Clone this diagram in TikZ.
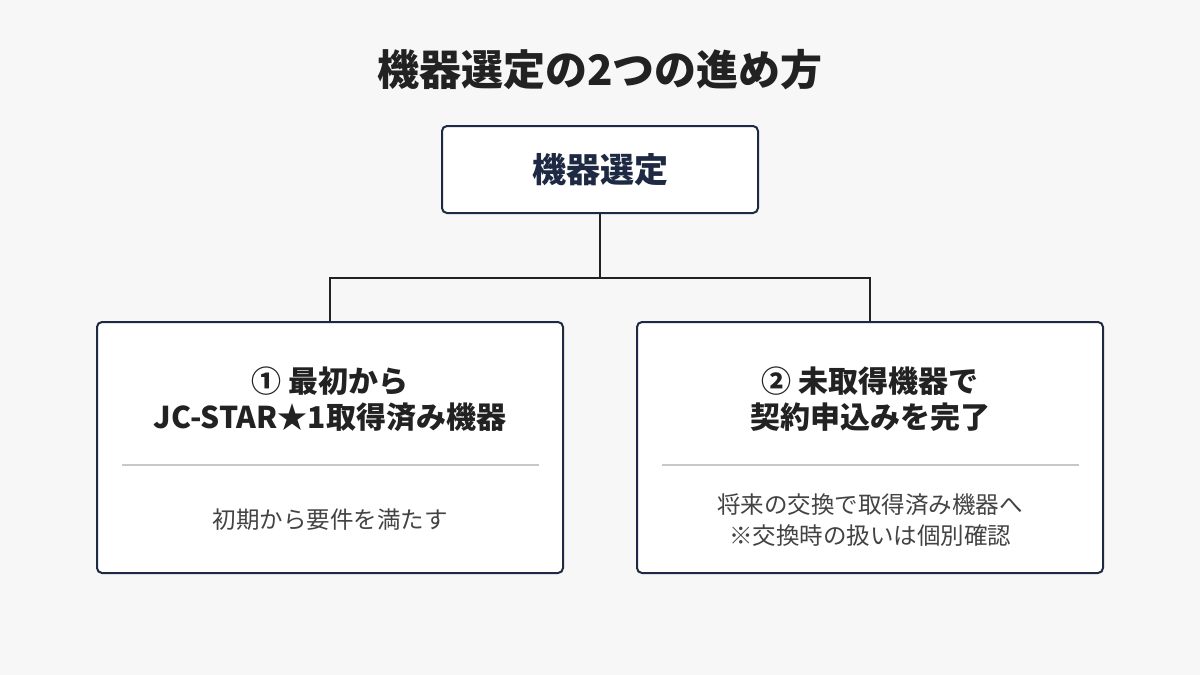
\documentclass[tikz,border=0pt]{standalone}
\usepackage{fontspec}
\setmainfont{Noto Sans CJK JP}
\definecolor{bg}{HTML}{F7F7F7}
\definecolor{navy}{HTML}{1E2A44}
\definecolor{ink}{HTML}{222222}
\definecolor{sep}{HTML}{C8C8C8}
\begin{document}
\begin{tikzpicture}[x=1pt,y=-1pt,
 box/.style={draw=navy,line width=2pt,rounded corners=5pt,fill=white},
 conn/.style={draw=ink,line width=2pt},
 head/.style={text=ink,font=\fontsize{30}{36}\selectfont\bfseries,align=center},
 body/.style={text=ink!85,font=\fontsize{23.5}{31}\selectfont,align=center}]
\fill[bg] (0,0) rectangle (1200,675);
\useasboundingbox (0,0) rectangle (1200,675);
\node[text=ink,font=\fontsize{42}{46}\selectfont\bfseries] (title) at (600,70) {機器選定の2つの進め方};
\node[box,minimum width=316pt,minimum height=87pt,text=navy,font=\fontsize{34}{38}\selectfont\bfseries] (top) at (600,169.5) {機器選定};
\node[box,minimum width=466pt,minimum height=251pt] (L) at (330,447.5) {};
\node[box,minimum width=466pt,minimum height=251pt] (R) at (870,447.5) {};
\coordinate (j) at (600,278);
\draw[conn] (top.south) -- (j);
\draw[conn] (330,278) -- (870,278);
\draw[conn] (330,277) -- (L.north);
\draw[conn] (870,277) -- (R.north);
\node[head] (lh) at (330,399) {① 最初から\\JC-STAR★1取得済み機器};
\node[head] (rh) at (870,399) {② 未取得機器で\\契約申込みを完了};
\draw[sep,line width=1.5pt] (122,465) -- (539,465);
\draw[sep,line width=1.5pt] (662,465) -- (1079,465);
\node[body] (lb) at (330,520) {初期から要件を満たす};
\node[body] (rb) at (870,520) {将来の交換で取得済み機器へ\\※交換時の扱いは個別確認};
\end{tikzpicture}
\end{document}
